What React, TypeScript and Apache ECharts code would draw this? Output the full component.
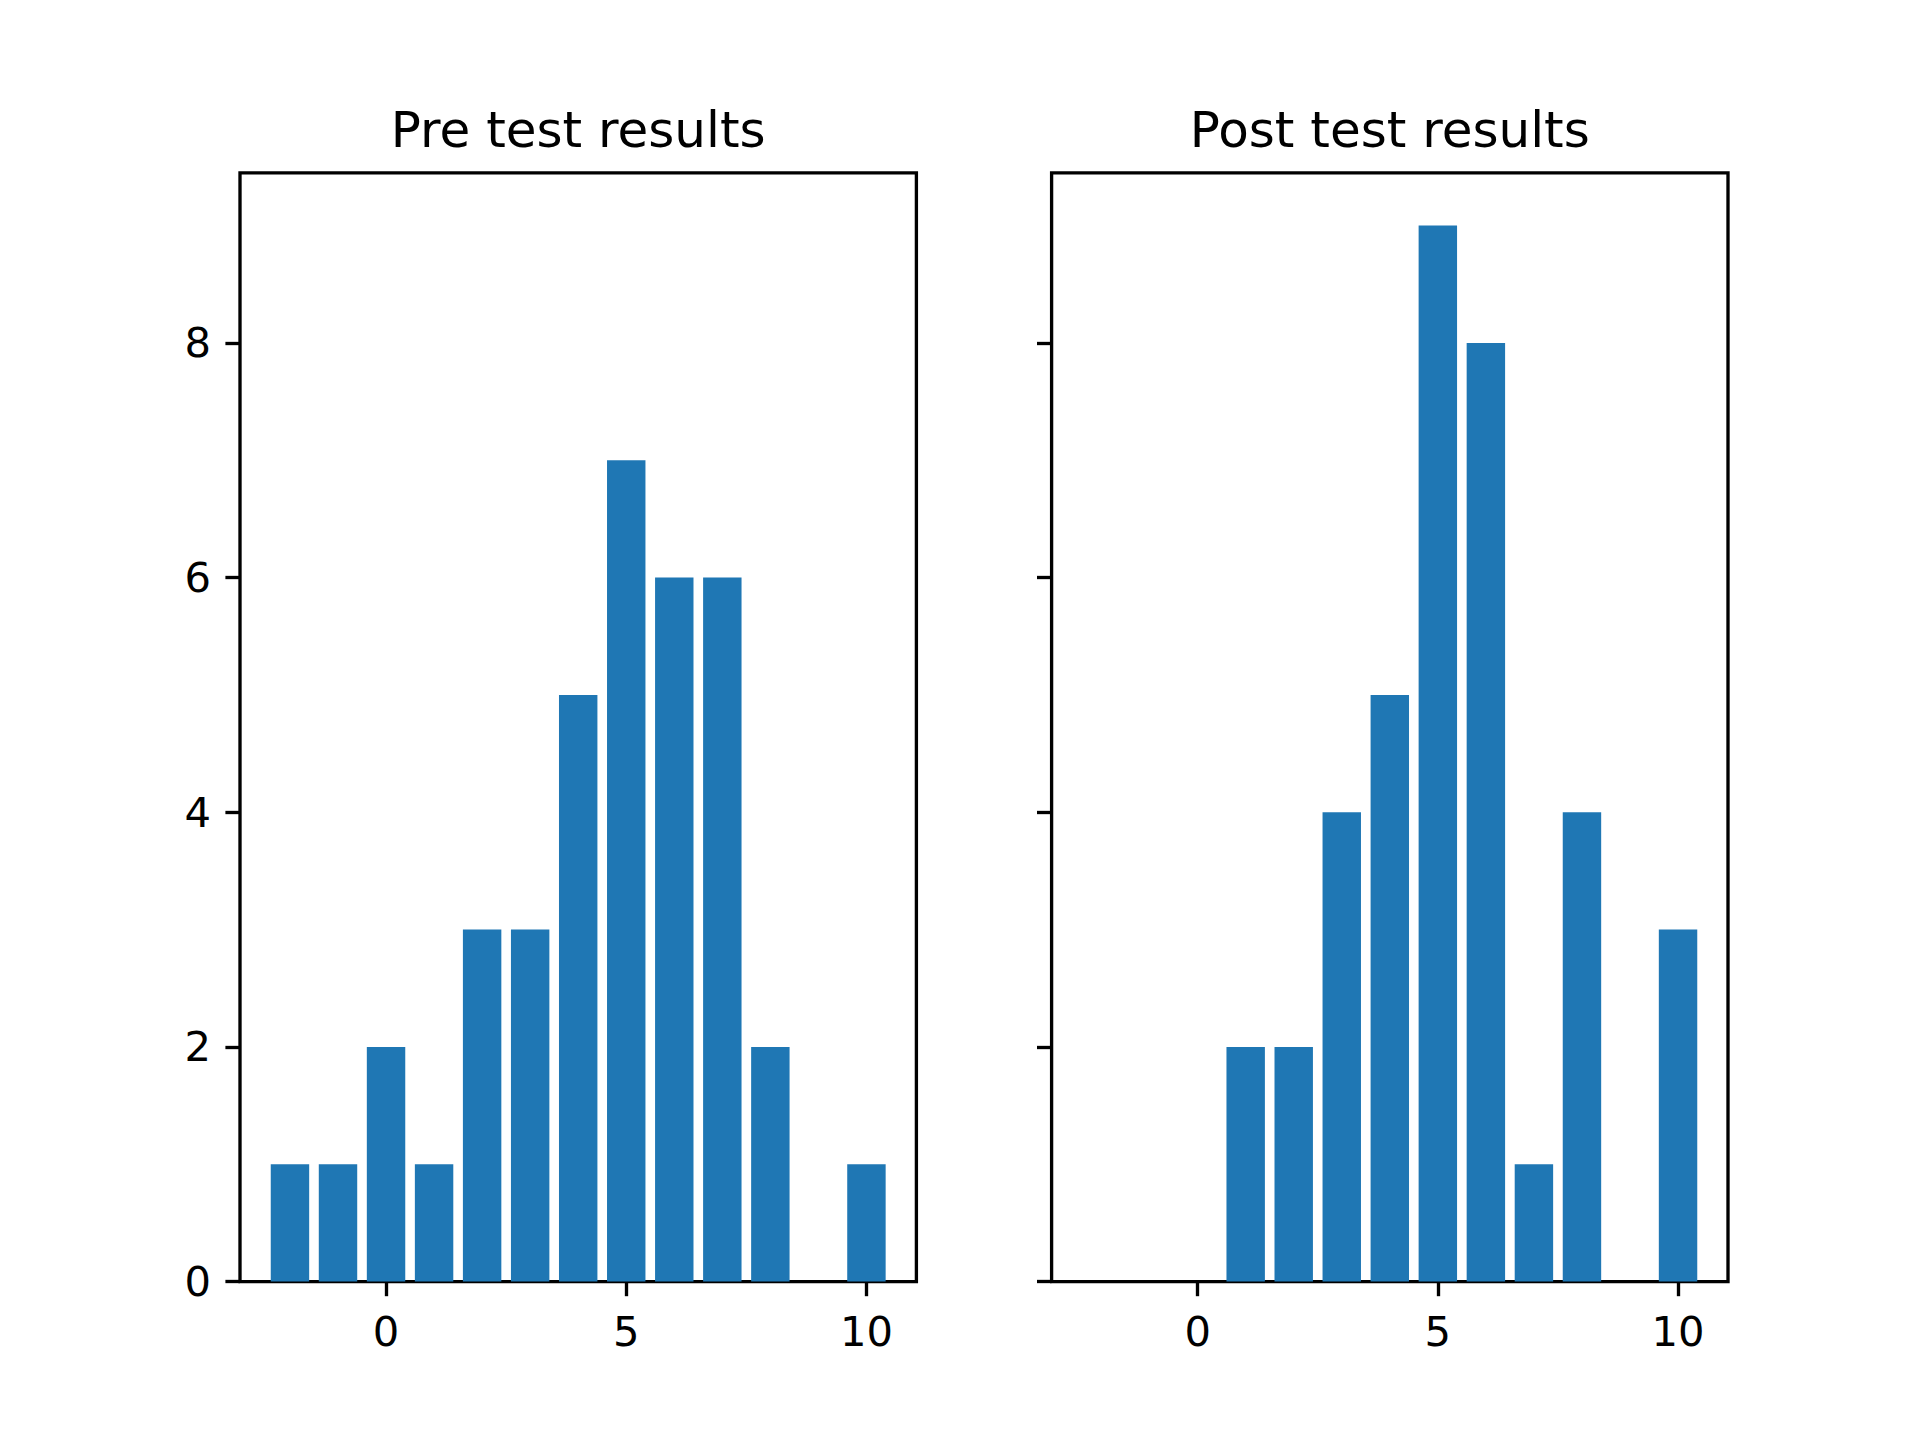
import React, { useEffect, useRef } from "react";
import * as echarts from "echarts";

const scores = [-2, -1, 0, 1, 2, 3, 4, 5, 6, 7, 8, 9, 10];
const preCounts = [1, 1, 2, 1, 3, 3, 5, 7, 6, 6, 2, 0, 1];
const postCounts = [0, 0, 0, 2, 2, 4, 5, 9, 8, 1, 4, 0, 3];
const xTicks = [0, 5, 10];
const yTicks = [0, 2, 4, 6, 8];
const titles = ["Pre test results", "Post test results"];

const W = 1920;
const H = 1440;
const axW = 676.4;
const axH = 1108.8;
const axTop = 172.8;
const axLefts = [240, 1051.6];
const xMin = -3.04;
const xMax = 11.04;
const yMin = 0;
const yMax = 9.45;
const lw = 3.33;
const font = "DejaVu Sans";

export default function App() {
  const ref = useRef<HTMLDivElement>(null);
  useEffect(() => {
    document.body.style.margin = "0";
    const chart = echarts.init(ref.current!, null, { renderer: "svg" });
    const barW = (axW / (xMax - xMin)) * 0.8;
    const mk = (vals: number[]) => scores.map((s, i) => [s, vals[i]]);
    const option: any = {
      animation: false,
      backgroundColor: "#ffffff",
      grid: axLefts.map((l) => ({
        left: l,
        top: axTop,
        width: axW,
        height: axH,
        show: true,
        borderColor: "#000",
        borderWidth: lw,
        backgroundColor: "transparent",
        containLabel: false,
      })),
      xAxis: [0, 1].map((i) => ({
        type: "value",
        gridIndex: i,
        min: xMin,
        max: xMax,
        position: "bottom",
        axisLine: { show: false, onZero: false },
        splitLine: { show: false },
        axisTick: {
          show: true,
          length: 14.6,
          lineStyle: { color: "#000", width: lw },
          customValues: xTicks,
        },
        axisLabel: {
          show: true,
          margin: 29,
          fontSize: 41.7,
          fontFamily: font,
          color: "#000",
          customValues: xTicks,
          showMinLabel: true,
          showMaxLabel: true,
        },
      })),
      yAxis: [0, 1].map((i) => ({
        type: "value",
        gridIndex: i,
        min: yMin,
        max: yMax,
        position: "left",
        axisLine: { show: false, onZero: false },
        splitLine: { show: false },
        axisTick: {
          show: true,
          length: 14.6,
          lineStyle: { color: "#000", width: lw },
          customValues: yTicks,
        },
        axisLabel: {
          show: i === 0,
          margin: 29,
          fontSize: 41.7,
          fontFamily: font,
          color: "#000",
          customValues: yTicks,
        },
      })),
      series: [preCounts, postCounts].map((vals, i) => ({
        type: "bar",
        xAxisIndex: i,
        yAxisIndex: i,
        data: mk(vals),
        barWidth: barW,
        itemStyle: { color: "#1f77b4" },
        silent: true,
      })),
      graphic: titles.map((t, i) => ({
        type: "text",
        x: axLefts[i] + axW / 2,
        y: 155,
        style: {
          text: t,
          fontSize: 50,
          fontFamily: font,
          fill: "#000",
          textAlign: "center",
          textVerticalAlign: "bottom",
        },
      })),
    };
    chart.setOption(option);
    return () => chart.dispose();
  }, []);
  return <div ref={ref} style={{ width: W, height: H }} />;
}
